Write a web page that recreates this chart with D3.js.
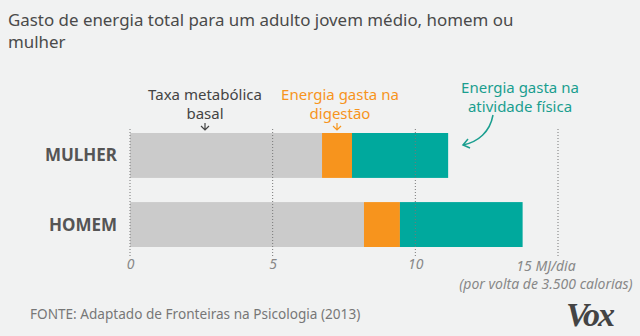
<!DOCTYPE html>
<html>
<head>
<meta charset="utf-8">
<script src="https://cdn.jsdelivr.net/npm/d3@7"></script>
<style>
  body { margin: 0; background: #f1f2f2; }
  svg { display: block; font-family: "Noto Sans", sans-serif; }
</style>
</head>
<body>
<svg id="chart" width="640" height="336"></svg>
<script>
// energy use, MJ per day
var groups = ["MULHER", "HOMEM"]
var basal = [6.73, 8.2]
var digestion = [1.05, 1.26]
var activity = [3.37, 4.3]
var ticks = [0, 5, 10, 15]
var segColors = ["#cbcbcb", "#f7941d", "#00a99d"]

var svg = d3.select("svg#chart")

var xScale = d3.scaleLinear().domain([0, 15]).range([130, 558])
var yScale = d3.scaleBand().domain(groups).range([133, 247]).paddingInner(0.35)

// title
svg.append("text")
    .attr("x", 8).attr("y", 26)
    .attr("font-size", "16.9px")
    .attr("fill", "#4a4a4a")
    .text("Gasto de energia total para um adulto jovem médio, homem ou")
svg.append("text")
    .attr("x", 8).attr("y", 48)
    .attr("font-size", "16.9px")
    .attr("fill", "#4a4a4a")
    .text("mulher")

// stacked bars
var rows = groups.map(function(g, i) {
    return {name: g, parts: [basal[i], digestion[i], activity[i]]}
})

rows.forEach(function(r) {
    var start = 0
    r.parts.forEach(function(v, j) {
        svg.append("rect")
            .attr("x", xScale(start))
            .attr("y", yScale(r.name))
            .attr("width", xScale(start + v) - xScale(start))
            .attr("height", yScale.bandwidth())
            .attr("fill", segColors[j])
        start += v
    })
    svg.append("text")
        .attr("x", 117)
        .attr("y", yScale(r.name) + yScale.bandwidth() / 2 + 6)
        .attr("text-anchor", "end")
        .attr("font-size", "17px")
        .attr("font-weight", "bold")
        .attr("fill", "#555")
        .text(r.name)
})

// dotted gridlines drawn over the bars
svg.selectAll(".grid")
    .data(ticks)
    .enter()
    .append("line")
    .attr("class", "grid")
    .attr("x1", function(d) { return xScale(d) })
    .attr("x2", function(d) { return xScale(d) })
    .attr("y1", 129)
    .attr("y2", 256)
    .attr("stroke", "#777")
    .attr("stroke-width", 1)
    .attr("stroke-dasharray", "1,2")

// tick labels
var axis = d3.axisBottom(xScale).tickValues(ticks).tickSize(0).tickPadding(0)
    .tickFormat(function(d) { return d == 15 ? "" : d })
var ax = svg.append("g")
    .attr("transform", "translate(0,259)")
    .call(axis)
ax.select(".domain").remove()
ax.selectAll("text")
    .attr("dy", "0.71em")
    .attr("font-size", "14px")
    .attr("font-style", "italic")
    .attr("font-family", "Noto Sans, sans-serif")
    .attr("fill", "#888")

svg.append("text")
    .attr("x", xScale(15) - 12).attr("y", 271)
    .attr("text-anchor", "middle")
    .attr("font-size", "14px")
    .attr("font-style", "italic")
    .attr("fill", "#888")
    .text("15 MJ/dia")
svg.append("text")
    .attr("x", xScale(15) - 12).attr("y", 289)
    .attr("text-anchor", "middle")
    .attr("font-size", "14px")
    .attr("font-style", "italic")
    .attr("fill", "#888")
    .text("(por volta de 3.500 calorias)")

// annotations
function note(lines, cx, y0, color) {
    lines.forEach(function(t, i) {
        svg.append("text")
            .attr("x", cx).attr("y", y0 + i * 18.5)
            .attr("text-anchor", "middle")
            .attr("font-size", "15px")
            .attr("fill", color)
            .text(t)
    })
}
function downArrow(cx, y, color) {
    svg.append("path")
        .attr("d", "M" + cx + "," + (y - 7) + "V" + y + "M" + (cx - 4) + "," + (y - 4) + "L" + cx + "," + y + "L" + (cx + 4) + "," + (y - 4))
        .attr("fill", "none")
        .attr("stroke", color)
        .attr("stroke-width", 1.2)
}

note(["Taxa metabólica", "basal"], 205, 100, "#444")
downArrow(205, 130, "#444")

var digX = xScale(basal[0] + digestion[0] / 2)
note(["Energia gasta na", "digestão"], digX + 3, 100, "#f7941d")
downArrow(digX, 130, "#f7941d")

note(["Energia gasta na", "atividade física"], 520, 93, "#1a9e8f")
svg.append("path")
    .attr("d", "M493,115 C490,132 478,142 463,145")
    .attr("fill", "none")
    .attr("stroke", "#1a9e8f")
    .attr("stroke-width", 1.5)
svg.append("path")
    .attr("d", "M468,139 L463,145 L470,148")
    .attr("fill", "none")
    .attr("stroke", "#1a9e8f")
    .attr("stroke-width", 1.5)

// source and logo
svg.append("text")
    .attr("x", 30).attr("y", 319)
    .attr("font-size", "13.6px")
    .attr("fill", "#777")
    .text("FONTE: Adaptado de Fronteiras na Psicologia (2013)")

svg.append("text")
    .attr("x", 566).attr("y", 326)
    .attr("font-family", "Liberation Serif, serif")
    .attr("font-size", "34px")
    .attr("font-weight", "bold")
    .attr("font-style", "italic")
    .attr("letter-spacing", "-2")
    .attr("fill", "#444")
    .text("Vox")
</script>
</body>
</html>
